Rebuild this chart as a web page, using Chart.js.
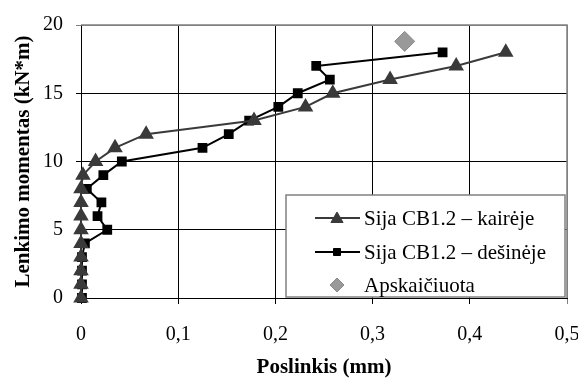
<!DOCTYPE html>
<html lang="lt">
<head>
  <meta charset="UTF-8" />
  <title>Lenkimo momentas - poslinkis</title>
  <script src="https://cdn.jsdelivr.net/npm/chart.js"></script>
  <style>
    html, body { margin: 0; padding: 0; background: #fff; }
    #wrap { position: relative; width: 578px; height: 381px; }
  </style>
</head>
<body>
  <div id="wrap"><canvas id="chart" width="578" height="381"></canvas></div>

  <script>
    // lenkimo momentas (kN*m), bendras abiem serijom
    const momentLevels = [0, 1, 2, 3, 4, 5, 6, 7, 8, 9, 10, 11, 12, 13, 14, 15, 16, 17, 18];
    // poslinkis (mm)
    const leftDisp  = [0, 0, 0, 0, 0, 0, 0, 0, 0, 0.002, 0.015, 0.035, 0.067, 0.178, 0.231, 0.259, 0.318, 0.386, 0.437];
    const rightDisp = [0.001, 0.001, 0.001, 0.001, 0.004, 0.027, 0.017, 0.021, 0.006, 0.023, 0.042, 0.125, 0.152, 0.173, 0.203, 0.223, 0.256, 0.242, 0.372];
    const calcDisp = [0.333];
    const calcMoment = [18.8];
    const seriesLabels = ['Sija CB1.2 – kairėje', 'Sija CB1.2 – dešinėje', 'Apskaičiuota'];
    const xTicks = [0, 0.1, 0.2, 0.3, 0.4, 0.5];
    const yTicks = [0, 5, 10, 15, 20];

    const toPoints = (xs, ys) => xs.map((x, i) => ({ x: x, y: ys[i] }));
    const serif = 'Liberation Serif, Times New Roman, serif';

    function drawMarker(ctx, style, x, y, r, fill, stroke) {
      ctx.fillStyle = fill;
      ctx.strokeStyle = stroke;
      ctx.lineWidth = 1;
      ctx.beginPath();
      if (style === 'triangle') {
        ctx.moveTo(x, y - r);
        ctx.lineTo(x + r * 0.87, y + r * 0.5);
        ctx.lineTo(x - r * 0.87, y + r * 0.5);
      } else if (style === 'rect') {
        ctx.rect(x - r * 0.7, y - r * 0.7, r * 1.4, r * 1.4);
      } else {
        ctx.moveTo(x, y - r);
        ctx.lineTo(x + r, y);
        ctx.lineTo(x, y + r);
        ctx.lineTo(x - r, y);
      }
      ctx.closePath();
      ctx.fill();
      ctx.stroke();
    }

    // legenda viduje grafiko, apačioje dešinėje
    const boxLegend = {
      id: 'boxLegend',
      afterDraw(chart) {
        const ctx = chart.ctx;
        const x0 = 286, y0 = 195, x1 = 565, y1 = 297;
        ctx.save();
        ctx.fillStyle = '#fff';
        ctx.fillRect(x0, y0, x1 - x0, y1 - y0);
        ctx.strokeStyle = '#808080';
        ctx.lineWidth = 1.5;
        ctx.strokeRect(x0, y0, x1 - x0, y1 - y0);

        const rows = [218, 252, 285];
        const sizes = [7, 5, 7];
        chart.data.datasets.forEach((ds, i) => {
          const y = rows[i];
          if (ds.showLine) {
            ctx.strokeStyle = ds.borderColor;
            ctx.lineWidth = ds.borderWidth;
            ctx.beginPath();
            ctx.moveTo(315, y);
            ctx.lineTo(360, y);
            ctx.stroke();
          }
          drawMarker(ctx, ds.pointStyle, 337, y + (i === 0 ? 1 : 0), sizes[i], ds.pointBackgroundColor, ds.pointBorderColor);
          ctx.fillStyle = '#000';
          ctx.font = '21px ' + serif;
          ctx.textBaseline = 'middle';
          ctx.textAlign = 'left';
          ctx.fillText(ds.label, 364, y + 1);
        });
        ctx.restore();
      }
    };

    const frame = {
      id: 'frame',
      afterDatasetsDraw(chart) {
        const a = chart.chartArea, ctx = chart.ctx;
        ctx.save();
        ctx.strokeStyle = '#808080';
        ctx.lineWidth = 1.5;
        ctx.beginPath();
        ctx.moveTo(a.left, a.top);
        ctx.lineTo(a.right, a.top);
        ctx.lineTo(a.right, a.bottom);
        ctx.stroke();
        ctx.restore();
      }
    };

    new Chart(document.getElementById('chart'), {
      type: 'scatter',
      data: {
        datasets: [
          {
            label: seriesLabels[0],
            data: toPoints(leftDisp, momentLevels),
            showLine: true,
            clip: false,
            borderColor: '#3a3a3a',
            borderWidth: 2,
            pointStyle: 'triangle',
            pointRadius: 7,
            pointBackgroundColor: '#3a3a3a',
            pointBorderColor: '#3a3a3a'
          },
          {
            label: seriesLabels[1],
            data: toPoints(rightDisp, momentLevels),
            showLine: true,
            clip: false,
            borderColor: '#000',
            borderWidth: 2,
            pointStyle: 'rect',
            pointRadius: 5.5,
            pointBackgroundColor: '#000',
            pointBorderColor: '#000'
          },
          {
            label: seriesLabels[2],
            data: toPoints(calcDisp, calcMoment),
            showLine: false,
            clip: false,
            pointStyle: 'rectRot',
            pointRadius: 10,
            pointBackgroundColor: '#999',
            pointBorderColor: '#888'
          }
        ]
      },
      options: {
        responsive: false,
        animation: false,
        layout: { padding: { top: 21, right: 10, left: 0, bottom: 0 } },
        plugins: {
          legend: { display: false },
          tooltip: { enabled: false }
        },
        scales: {
          x: {
            type: 'linear',
            min: 0,
            max: 0.5,
            afterBuildTicks: s => { s.ticks = xTicks.map(v => ({ value: v })); },
            afterFit: s => { s.height = 83; s.paddingRight = 10; },
            grid: {
              color: ctx => ctx.index === xTicks.length - 1 ? '#808080' : '#000',
              lineWidth: 1,
              tickLength: 6
            },
            border: { display: true, color: '#000', width: 1 },
            ticks: {
              color: '#000',
              font: { family: serif, size: 20 },
              padding: 19,
              maxRotation: 0,
              callback: v => String(v).replace('.', ',')
            },
            title: {
              display: true,
              text: 'Poslinkis (mm)',
              color: '#000',
              font: { family: serif, size: 21, weight: 'bold' },
              padding: { top: 0, bottom: 1 }
            }
          },
          y: {
            type: 'linear',
            min: 0,
            max: 20,
            afterBuildTicks: s => { s.ticks = yTicks.map(v => ({ value: v })); },
            afterFit: s => { s.width = 81; },
            grid: {
              color: ctx => ctx.index === yTicks.length - 1 ? '#808080' : '#000',
              lineWidth: 1,
              tickLength: 5
            },
            border: { display: true, color: '#000', width: 1 },
            ticks: {
              color: '#000',
              font: { family: serif, size: 20 },
              padding: 13
            },
            title: {
              display: true,
              text: 'Lenkimo momentas (kN*m)',
              color: '#000',
              font: { family: serif, size: 21, weight: 'bold' },
              padding: { top: 11, bottom: 0 }
            }
          }
        }
      },
      plugins: [boxLegend, frame]
    });
  </script>
</body>
</html>
